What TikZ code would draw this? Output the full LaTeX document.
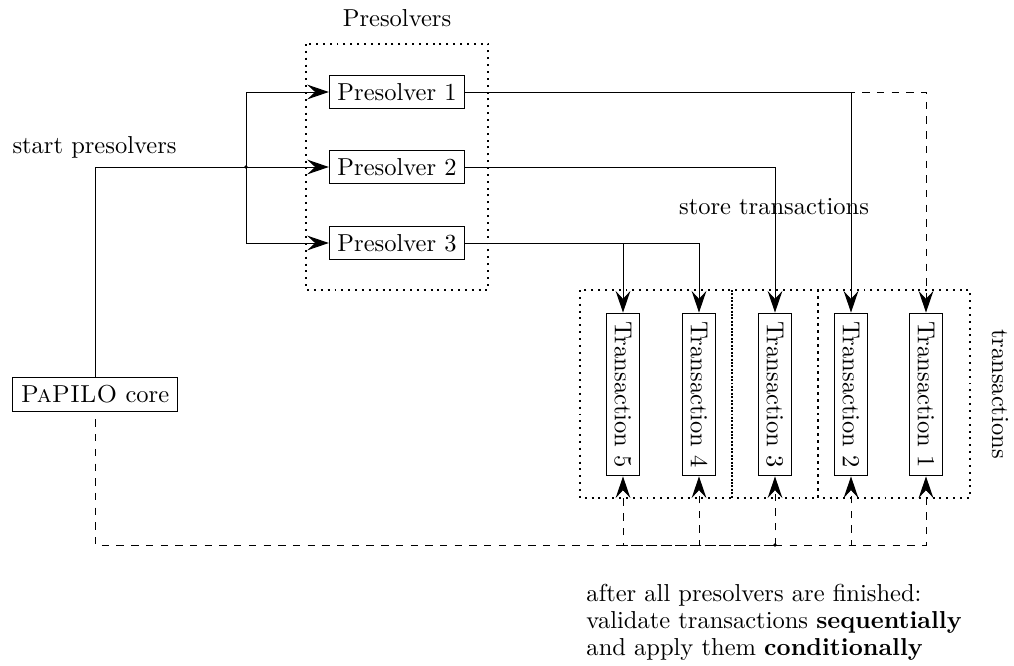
\documentclass[tikz,border=0pt]{standalone}
\usetikzlibrary{arrows.meta}
\begin{document}
\begin{tikzpicture}[x=0.408pt,y=-0.408pt,
  box/.style={draw,inner sep=3.33pt,minimum height=13.2pt},
  tbox/.style={draw,inner sep=3.33pt,minimum width=13.2pt},
  grp/.style={thick,dotted},
  arr/.style={-{Stealth[length=8.8pt,width=6pt,inset=3.2pt]}},
  lbl/.style={inner sep=0pt}]
\useasboundingbox (0,0) rectangle (1014,665);
% groups
\draw[grp] (306,44) rectangle (488,290);
\draw[grp] (580,290) rectangle (732,498);
\draw[grp] (732,290) rectangle (818,498);
\draw[grp] (818,290) rectangle (970,498);
% nodes
\node[lbl] (lpres) at (397,18) {Presolvers};
\node[box] (p1) at (397,92) {Presolver 1};
\node[box] (p2) at (397,167) {Presolver 2};
\node[box] (p3) at (397,243) {Presolver 3};
\node[box] (core) at (95,394.5) {\textsc{PaPILO} core};
\node[lbl] (lstart) at (94.5,147) {start presolvers};
\node[lbl] (lstore) at (774,207) {store transactions};
\node[lbl,rotate=-90] (ltrans) at (1000,394) {transactions};
\node[tbox] (t5) at (623,394.5) {\rotatebox{-90}{Transaction 5}};
\node[tbox] (t4) at (699,394.5) {\rotatebox{-90}{Transaction 4}};
\node[tbox] (t3) at (775,394.5) {\rotatebox{-90}{Transaction 3}};
\node[tbox] (t2) at (851,394.5) {\rotatebox{-90}{Transaction 2}};
\node[tbox] (t1) at (926,394.5) {\rotatebox{-90}{Transaction 1}};
\node[lbl,anchor=west,align=left] (lafter) at (586,622)
  {after all presolvers are finished:\\[-1pt]
   validate transactions \textbf{sequentially}\\[-1pt]
   and apply them \textbf{conditionally}};
% start presolvers
\coordinate (js) at (246,167);
\draw (core.north) |- (js);
\draw[arr] (js) -- (p2.west);
\draw[arr] (js) |- (p1.west);
\draw[arr] (js) |- (p3.west);
\fill (js) circle (0.8pt);
% store transactions
\draw[arr,dashed] (p1.east) -| (t1.north);
\draw[arr] (p1.east) -| (t2.north);
\draw[arr] (p2.east) -| (t3.north);
\draw[arr] (p3.east) -| (t5.north);
\draw[arr] (p3.east) -| (t4.north);
% validate
\coordinate (jb) at (775,545);
\draw[dashed,dash phase=3pt] (core.south) |- (jb);
\draw[arr,dashed] (jb) -- (t3.south);
\draw[arr,dashed] (jb) -| (t5.south);
\draw[arr,dashed] (jb) -| (t4.south);
\draw[arr,dashed] (jb) -| (t2.south);
\draw[arr,dashed] (jb) -| (t1.south);
\fill (jb) circle (0.8pt);
\end{tikzpicture}
\end{document}
